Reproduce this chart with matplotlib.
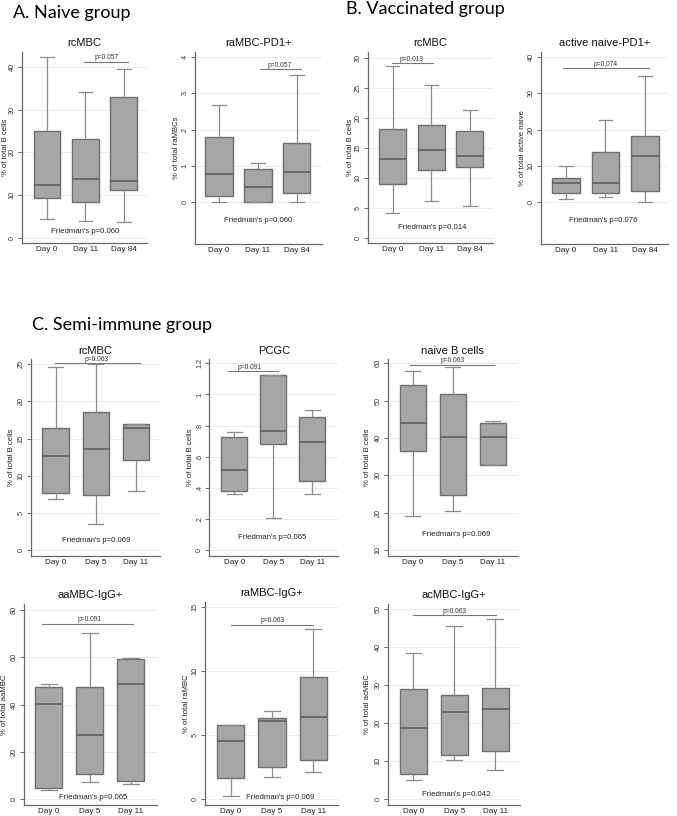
import matplotlib
matplotlib.use("Agg")
import matplotlib.pyplot as plt

# ---------------- data (5-number summaries: low whisker, Q1, median, Q3, high whisker) ----
days_A = ["Day 0", "Day 11", "Day 84"]
days_C = ["Day 0", "Day 5", "Day 11"]

naive_rcMBC = [[4.5, 9.4, 12.4, 25.1, 42.3],
               [4.0, 8.4, 13.7, 23.2, 34.1],
               [3.8, 11.2, 13.2, 33.0, 39.5]]
naive_raMBC_PD1 = [[0.0, 0.17, 0.77, 1.79, 2.69],
                   [0.0, 0.0, 0.40, 0.91, 1.07],
                   [0.0, 0.24, 0.82, 1.63, 3.5]]
vacc_rcMBC = [[4.2, 9.05, 13.2, 18.2, 28.7],
              [6.2, 11.3, 14.7, 18.9, 25.5],
              [5.4, 11.9, 13.7, 17.8, 21.3]]
vacc_active_naive_PD1 = [[0.9, 2.5, 5.35, 6.7, 9.9],
                         [1.3, 2.5, 5.2, 13.8, 22.5],
                         [0.0, 3.1, 12.6, 18.2, 34.8]]
semi_rcMBC = [[6.86, 7.63, 12.7, 16.38, 24.67],
              [3.5, 7.4, 13.55, 18.53, 25.1],
              [7.9, 12.16, 16.46, 17.0, 17.0]]
semi_PCGC = [[0.36, 0.381, 0.514, 0.724, 0.756],
             [0.208, 0.679, 0.765, 1.125, 1.125],
             [0.36, 0.441, 0.692, 0.855, 0.898]]
semi_naiveB = [[19.1, 36.4, 43.9, 54.1, 58.0],
               [20.4, 24.65, 40.2, 51.7, 58.9],
               [32.85, 32.85, 40.35, 44.1, 44.5]]
semi_aaMBC_IgG = [[4.1, 4.6, 40.4, 47.6, 48.7],
                  [7.2, 10.55, 27.0, 47.6, 70.4],
                  [6.3, 7.9, 48.9, 59.4, 59.8]]
semi_raMBC_IgG = [[0.28, 1.63, 4.54, 5.79, 5.79],
                  [1.71, 2.52, 6.1, 6.3, 6.85],
                  [2.1, 3.04, 6.43, 9.5, 13.24]]
semi_acMBC_IgG = [[5.0, 6.65, 18.85, 28.9, 38.6],
                  [10.25, 11.75, 23.05, 27.45, 45.5],
                  [7.6, 12.6, 23.85, 29.4, 47.5]]

titles = ["rcMBC", "raMBC-PD1+", "rcMBC", "active naive-PD1+",
          "rcMBC", "PCGC", "naive B cells",
          "aaMBC-IgG+", "raMBC-IgG+", "acMBC-IgG+"]
ylabels = ["% of total B cells", "% of total raMBCs", "% of total B cells",
           "% of total active naive",
           "% of total B cells", "% of total B cells", "% of total B cells",
           "% of total aaMBC", "% of total raMBC", "% of total acMBC"]
pair_p = ["p=0.057", "p=0.057", "p=0.013", "p=0.074",
          "p=0.063", "p=0.091", "p=0.063",
          "p=0.091", "p=0.063", "p=0.063"]
friedman_p = ["Friedman's p=0.060", "Friedman's p=0.060", "Friedman's p=0.014",
              "Friedman's p=0.076",
              "Friedman's p=0.069", "Friedman's p=0.065", "Friedman's p=0.069",
              "Friedman's p=0.065", "Friedman's p=0.069", "Friedman's p=0.042"]
yticks = [[0, 10, 20, 30, 40], [0, 1, 2, 3, 4], [0, 5, 10, 15, 20, 25, 30],
          [0, 10, 20, 30, 40],
          [0, 5, 10, 15, 20, 25], [0, 0.2, 0.4, 0.6, 0.8, 1.0, 1.2],
          [10, 20, 30, 40, 50, 60],
          [0, 20, 40, 60, 80], [0, 5, 10, 15], [0, 10, 20, 30, 40, 50]]
pcgc_ticklabels = ["0", ".2", ".4", ".6", ".8", "1", "1.2"]

panel_data = [naive_rcMBC, naive_raMBC_PD1, vacc_rcMBC, vacc_active_naive_PD1,
              semi_rcMBC, semi_PCGC, semi_naiveB,
              semi_aaMBC_IgG, semi_raMBC_IgG, semi_acMBC_IgG]
panel_days = [days_A] * 4 + [days_C] * 6

# ---------------- layout / annotation placement ----------------
W, H = 677, 816
# pixel boxes: left, right, top, bottom
boxes = [(22, 147, 52, 243), (195, 322, 52, 244), (368, 493, 52, 243), (541, 668, 52, 244),
         (31, 160, 359.3, 555.7), (209.3, 338.3, 359.3, 555.7), (387.7, 517.7, 359.3, 555.7),
         (24.3, 156.7, 604, 805), (205, 338.3, 601.7, 805), (387.7, 520, 604, 805)]
ylabel_x = [5.5, 176.7, 350, 522.7, 11.7, 190, 367.7, 5.0, 186.7, 367.7]
ylims = [(-1.2, 43.5), (-1.16, 4.14), (-0.83, 31.0), (-11.6, 41.4),
         (-0.77, 25.67), (-0.037, 1.226), (8.47, 61.07),
         (-2.4, 82.5), (-0.44, 15.39), (-1.5, 51.4)]
xlims = [(0.35, 3.6), (0.38, 3.65), (0.36, 3.6), (0.37, 3.58),
         (0.386, 3.6), (0.36, 3.67), (0.375, 3.625),
         (0.4, 3.63), (0.373, 3.61), (0.373, 3.61)]
brackets = [(1.96, 3.10, 41.2), (2.05, 3.10, 3.66), (0.97, 2.05, 29.1), (0.92, 3.10, 37.0),
            (0.98, 3.10, 25.17), (0.85, 2.13, 1.148), (0.93, 3.03, 59.6),
            (0.82, 3.06, 74.1), (1.0, 2.99, 13.6), (0.985, 3.02, 48.5)]
ptext_x = [2.55, 2.57, 1.5, 2.0, 2.02, 1.40, 2.0, 1.98, 2.02, 2.02]
fried_pos = [(2.0, 1.5), (2.0, -0.5), (2.02, 1.8), (1.95, -5.0),
             (2.0, 1.3), (1.97, 0.079), (2.08, 14.1),
             (2.07, 0.7), (2.2, 0.12), (2.06, 1.3)]
capw = [0.35] * 4 + [0.38] * 6
boxw = [0.7] * 4 + [0.66] * 6

FONT = "Liberation Sans"
plt.rcParams["font.family"] = [FONT, "DejaVu Sans"]

fig = plt.figure(figsize=(W / 100, H / 100), dpi=100)
fig.patch.set_facecolor("white")

box_face = "#a6a6a6"
box_edge = "#6f6f6f"
wh_col = "#8c8c8c"
axis_col = "#6a6a6a"
grid_col = "#e4eeee"

for i in range(10):
    l, r, t, b = boxes[i]
    ax = fig.add_axes([l / W, 1 - b / H, (r - l) / W, (b - t) / H])
    stats = []
    for d, s in zip(panel_days[i], panel_data[i]):
        stats.append(dict(label=d, whislo=s[0], q1=s[1], med=s[2], q3=s[3], whishi=s[4], fliers=[]))
    ax.bxp(stats, positions=[1, 2, 3], widths=boxw[i], capwidths=capw[i],
           patch_artist=True, showfliers=False,
           boxprops=dict(facecolor=box_face, edgecolor=box_edge, linewidth=1.0),
           medianprops=dict(color="#5a5a5a", linewidth=1.1),
           whiskerprops=dict(color=wh_col, linewidth=0.9),
           capprops=dict(color=wh_col, linewidth=0.9))
    ax.set_xlim(*xlims[i])
    ax.set_ylim(*ylims[i])
    ax.set_yticks(yticks[i])
    if i == 5:
        ax.set_yticklabels(pcgc_ticklabels)
    for yt in yticks[i]:
        ax.axhline(yt, color=grid_col, linewidth=0.7, zorder=0)
    for sp in ["top", "right"]:
        ax.spines[sp].set_visible(False)
    for sp in ["left", "bottom"]:
        ax.spines[sp].set_color(axis_col)
        ax.spines[sp].set_linewidth(0.9)
    ax.tick_params(axis="y", labelsize=5.2, length=3, width=0.7, color=axis_col,
                   labelcolor="#333333", pad=1.5, labelrotation=90)
    for lab in ax.get_yticklabels():
        lab.set_va("center")
    ax.tick_params(axis="x", labelsize=5.9, length=0, pad=2.2, labelcolor="#222222")
    ax.set_title(titles[i], fontsize=8, pad=4, color="#111111")
    ax.set_ylabel(ylabels[i], fontsize=5.6, color="#222222", va="center")
    ax.yaxis.set_label_coords((ylabel_x[i] - l) / (r - l), 0.5)
    x0, x1, yb = brackets[i]
    ax.plot([x0, x1], [yb, yb], color="#7a7a7a", linewidth=0.8, clip_on=False)
    ax.annotate(pair_p[i], (ptext_x[i], yb), xytext=(0, 0.3), textcoords="offset points",
                ha="center", va="bottom", fontsize=4.8, color="#333333")
    fx, fy = fried_pos[i]
    ax.text(fx, fy, friedman_p[i], ha="center", va="center", fontsize=5.6, color="#222222")

HFONT = ["Lato", "DejaVu Sans"]
fig.text(13 / W, 1 - 13 / H, "A. Naive group", fontsize=13, family=HFONT, va="center", ha="left")
fig.text(346 / W, 1 - 9 / H, "B. Vaccinated group", fontsize=13, family=HFONT, va="center", ha="left")
fig.text(32 / W, 1 - 325 / H, "C. Semi-immune group", fontsize=13, family=HFONT, va="center", ha="left")

fig.savefig("out.png", dpi=100, facecolor="white")
